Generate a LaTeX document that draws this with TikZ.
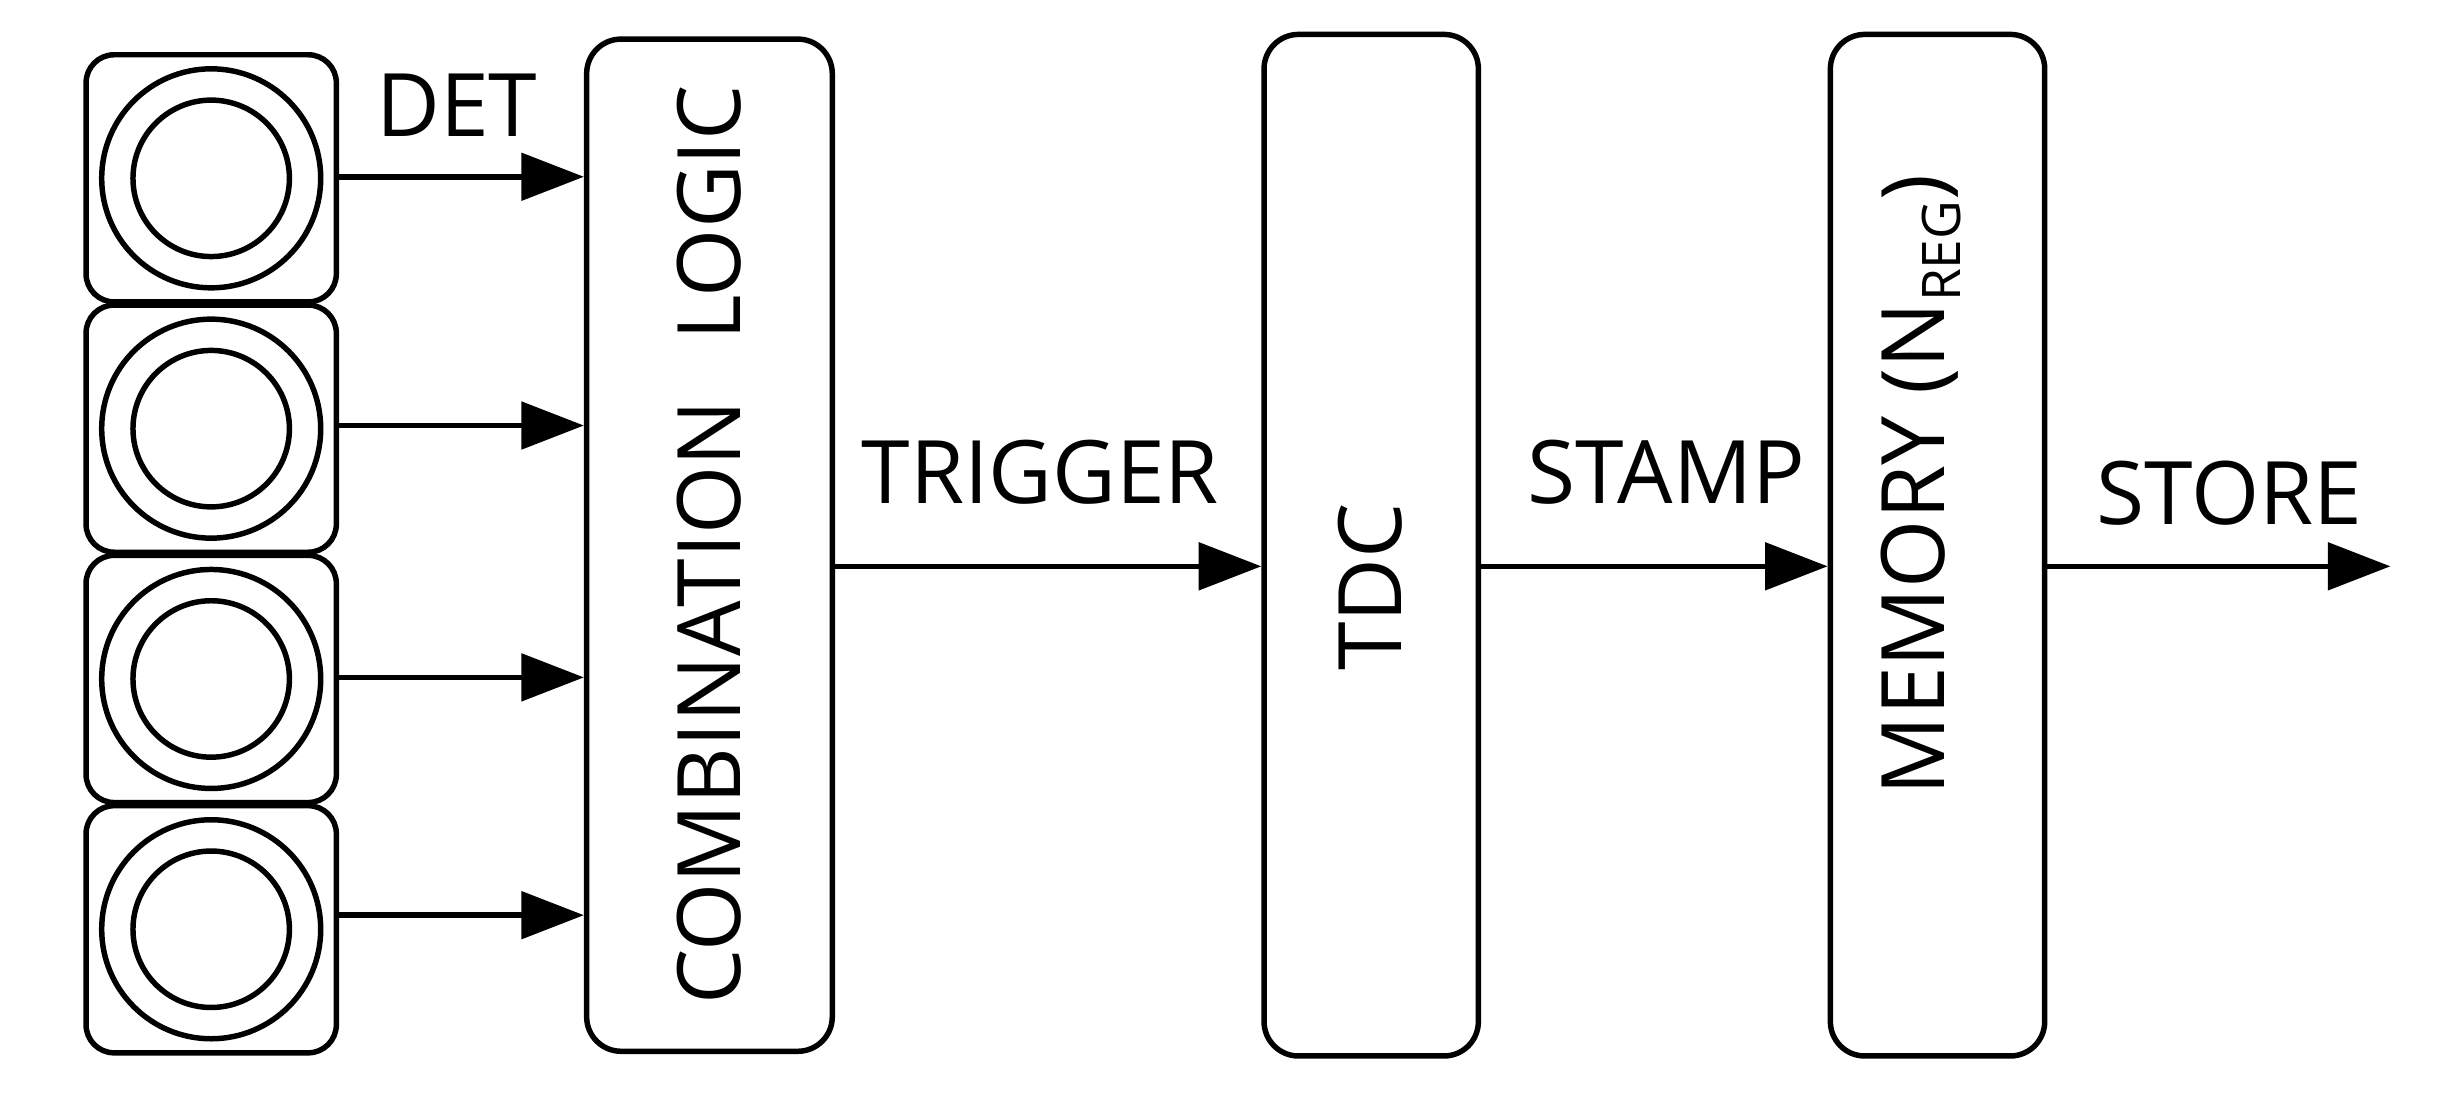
\documentclass[tikz,border=0pt]{standalone}
\usepackage{fontspec}
\setmainfont{Open Sans}
\usetikzlibrary{arrows.meta}
\begin{document}
\begin{tikzpicture}[x=1pt,y=-1pt,line width=3.5pt,
  blk/.style={draw,rounded corners=22pt},
  arr/.style={-{Triangle[length=40pt,width=30pt]}},
  lbl/.style={font=\fontsize{56}{60}\selectfont,inner sep=0pt}]
\useasboundingbox (0,0) rectangle (1568,700);
\foreach \i/\y/\ay in {1/35/113,2/195/272,3/355/433,4/515/585}{
  \draw[blk,rounded corners=18pt] (55,\y) rectangle (215,\y+158);
  \draw (135,\y+79) circle (70) circle (50);
  \coordinate (d\i) at (215,\ay);
}
\node[blk,minimum width=157pt,minimum height=647pt] (cl) at (453.5,348.5) {};
\node[lbl,rotate=90] at (cl) {COMBINATION\hspace{38pt}LOGIC};
\node[blk,minimum width=137pt,minimum height=653pt] (tdc) at (876.5,348.5) {};
\node[lbl,rotate=90] at (876,375) {TDC};
\node[blk,minimum width=137pt,minimum height=653pt] (mem) at (1238.5,348.5) {};
\node[lbl,rotate=90] at (1228,310) {MEMORY (N\raisebox{-10pt}{\fontsize{34}{36}\selectfont REG})};
\foreach \i in {1,...,4}
  \draw[arr] (d\i) -- (cl.west |- d\i);
\coordinate (out) at (1528,362);
\draw[arr] (cl.east |- 0,362) -- (tdc.west |- 0,362);
\draw[arr] (tdc.east |- 0,362) -- (mem.west |- 0,362);
\draw[arr] (mem.east |- 0,362) -- (out);
\node[lbl] at (292,67) {DET};
\node[lbl] at (665,302) {TRIGGER};
\node[lbl] at (1065,302) {STAMP};
\node[lbl] at (1425,315) {STORE};
\end{tikzpicture}
\end{document}
